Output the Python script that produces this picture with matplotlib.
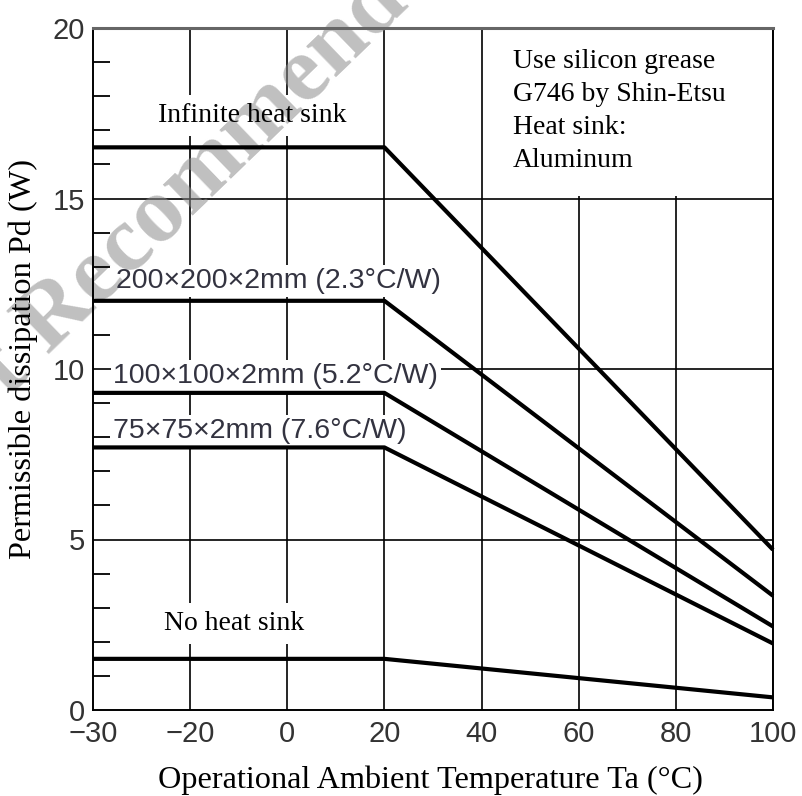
import numpy as np
import matplotlib
matplotlib.use("Agg")
import matplotlib.pyplot as plt
from matplotlib.ticker import MultipleLocator, FixedLocator
from matplotlib.patches import Rectangle

# ---- data ----
ta = [-30, 20, 100]
pd_infinite = [16.5, 16.5, 4.7]
pd_200 = [12.0, 12.0, 3.35]
pd_100 = [9.3, 9.3, 2.45]
pd_75 = [7.7, 7.7, 1.95]
pd_none = [1.5, 1.5, 0.37]
series = [pd_infinite, pd_200, pd_100, pd_75, pd_none]

x_ticks = [-30, -20, 0, 20, 40, 60, 80, 100]
x_tick_labels = ["\u221230", "\u221220", "0", "20", "40", "60", "80", "100"]
y_ticks = [0, 5, 10, 15, 20]
y_tick_labels = ["0", "5", "10", "15", "20"]

SERIF = "Liberation Serif"
SANS = "Liberation Sans"


def fwd(x):
    x = np.asarray(x, dtype=float)
    return np.where(x < -20, -20 + (x + 20) * 2.0, x)


def inv(u):
    u = np.asarray(u, dtype=float)
    return np.where(u < -20, -20 + (u + 20) / 2.0, u)


fig = plt.figure(figsize=(8.02, 7.96), dpi=100)
ax = fig.add_axes([93 / 802, 1 - 710 / 796, 680 / 802, 682 / 796])
ax.set_xscale("function", functions=(fwd, inv))
ax.set_xlim(-30, 100)
ax.set_ylim(0, 20)

# grid
for xv in x_ticks[1:]:
    ax.axvline(xv, color="black", lw=1.2, zorder=0.5)
for yv in y_ticks[1:-1]:
    ax.axhline(yv, color="black", lw=1.2, zorder=0.5)

# ticks
ax.xaxis.set_major_locator(FixedLocator(x_ticks))
ax.set_xticklabels(x_tick_labels)
ax.yaxis.set_major_locator(FixedLocator(y_ticks))
ax.set_yticklabels(y_tick_labels)
ax.yaxis.set_minor_locator(MultipleLocator(1))
ax.tick_params(axis="both", which="major", length=0, labelsize=21,
               labelcolor="#333333")
ax.tick_params(axis="x", which="major", pad=7)
ax.tick_params(axis="y", which="major", pad=6)
ax.tick_params(axis="y", which="minor", direction="in", length=12,
               width=1.3, color="black")
for lab in ax.get_xticklabels() + ax.get_yticklabels():
    lab.set_fontfamily(SANS)

for side in ["left", "bottom", "right"]:
    ax.spines[side].set_color("black")
    ax.spines[side].set_linewidth(1.4)
ax.spines["top"].set_color("#666666")
ax.spines["top"].set_linewidth(2.2)

# white region for note box (top right)
ax.add_patch(Rectangle((40.6, 15.07), 59.2, 4.9, facecolor="white",
                       edgecolor="none", zorder=0.8))


def boxed_label(x, y, s, family, size, ha="left", va="baseline",
                pad=0.15, color="#222222"):
    ax.text(x, y, s, family=family, fontsize=size, ha=ha, va=va,
            color="none", zorder=1.0,
            bbox=dict(facecolor="white", edgecolor="none",
                      boxstyle=f"square,pad={pad}"))
    ax.text(x, y, s, family=family, fontsize=size, ha=ha, va=va,
            color=color, zorder=3)


boxed_label(-7.16, 17.24, "Infinite heat sink", SERIF, 20, ha="center",
            color="black", pad=0.3)
boxed_label(-27.6, 12.37, "200\u00d7200\u00d72mm (2.3\u00b0C/W)", SANS, 20.5,
            color="#333340", pad=0.1)
boxed_label(-27.9, 9.58, "100\u00d7100\u00d72mm (5.2\u00b0C/W)", SANS, 20.5,
            color="#333340", pad=0.1)
boxed_label(-27.9, 7.98, "75\u00d775\u00d72mm (7.6\u00b0C/W)", SANS, 20.5,
            color="#333340", pad=0.1)
boxed_label(-11, 2.35, "No heat sink", SERIF, 20, ha="center",
            color="black", pad=0.3)

ax.text(46.5, 19.38, "Use silicon grease\nG746 by Shin-Etsu\nHeat sink:\nAluminum",
        family=SERIF, fontsize=20, ha="left", va="top", color="black",
        linespacing=1.42, zorder=3)

# curves
for s in series:
    ax.plot(ta, s, color="black", lw=3.0, solid_joinstyle="round",
            solid_capstyle="butt", zorder=2, clip_on=False)

# watermark
ax.text(48 / 802, 1 - 356 / 796, "Recommended for New Design",
        transform=fig.transFigure, rotation=44, rotation_mode="anchor",
        ha="left", va="baseline", family=SERIF, fontweight="bold",
        fontsize=68, color="#8c8c8c", alpha=0.55, zorder=1.2, clip_on=False)
ax.text(30 / 802, 1 - 374 / 796, "Not",
        transform=fig.transFigure, rotation=44, rotation_mode="anchor",
        ha="right", va="baseline", family=SERIF, fontweight="bold",
        fontsize=68, color="#8c8c8c", alpha=0.55, zorder=1.2, clip_on=False)

# axis labels
ax.set_xlabel("Operational Ambient Temperature Ta (\u00b0C)", family=SERIF,
              fontsize=23.2, color="black", va="center")
ax.xaxis.set_label_coords(0.4956, -0.103)
ax.set_ylabel("Permissible dissipation Pd (W)", family=SERIF, fontsize=23.2,
              color="black", va="center")
ax.yaxis.set_label_coords(-0.103, 0.514)

fig.savefig("out.png", dpi=100)
